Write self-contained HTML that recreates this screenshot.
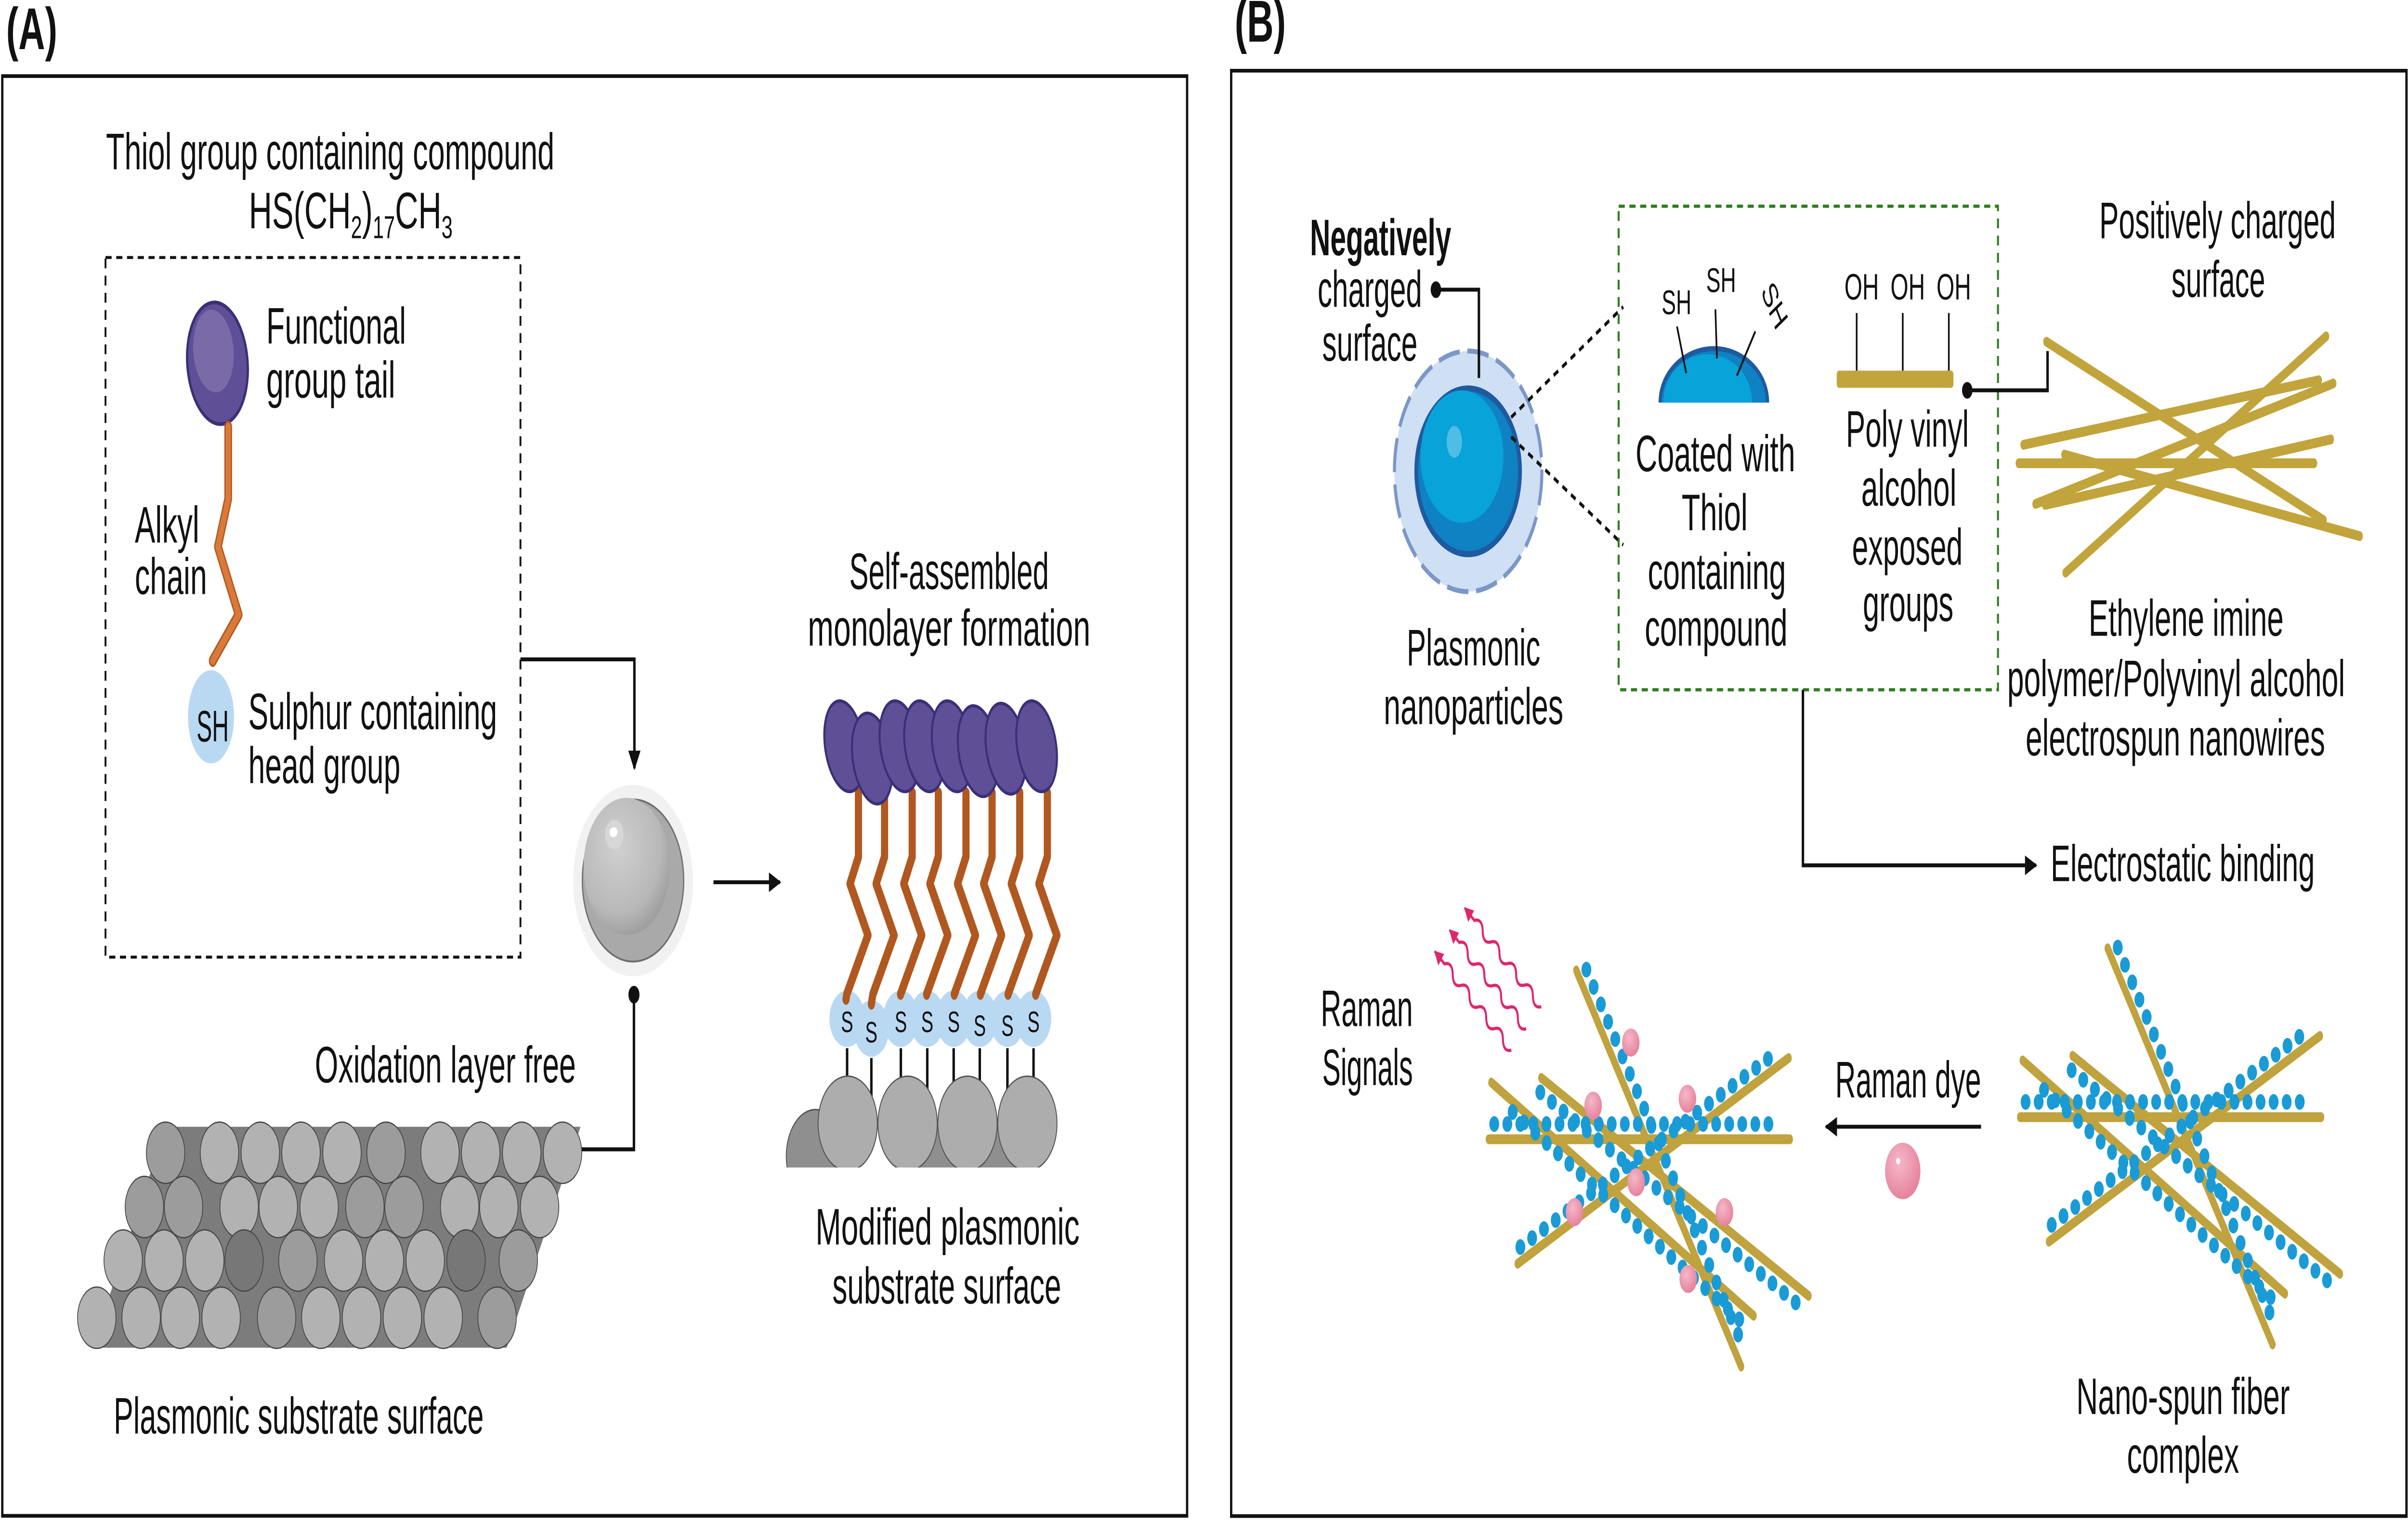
<!DOCTYPE html>
<html><head><meta charset="utf-8"><style>
html,body{margin:0;padding:0;background:#fff;width:100%;height:100%;overflow:hidden;}
svg.root{display:block;position:fixed;left:0;top:0;width:100vw;height:100vh;}
text{font-family:"Liberation Sans Narrow","Liberation Sans",sans-serif;font-size:21px;fill:#111;}
</style></head><body>
<svg class="root" viewBox="0 0 1568 619.2" preserveAspectRatio="none" xmlns="http://www.w3.org/2000/svg">
<defs>
<marker id="ah" viewBox="0 0 10 10" refX="9" refY="5" markerWidth="9" markerHeight="8" markerUnits="userSpaceOnUse" orient="auto"><path d="M0,0 L10,5 L0,10 z" fill="#111"/></marker>
<marker id="pk" viewBox="0 0 10 10" refX="9" refY="5" markerWidth="6" markerHeight="6" markerUnits="userSpaceOnUse" orient="auto"><path d="M0,0 L10,5 L0,10 z" fill="#e0266e"/></marker>
<radialGradient id="gs" cx="0.4" cy="0.35" r="0.7"><stop offset="0" stop-color="#d0d0d0"/><stop offset="0.7" stop-color="#b8b8b8"/><stop offset="1" stop-color="#9a9a9a"/></radialGradient>
<radialGradient id="pb" cx="0.4" cy="0.35" r="0.7"><stop offset="0" stop-color="#f6b8c8"/><stop offset="1" stop-color="#e47f9a"/></radialGradient>
<g id="cx">
 <g stroke="#c0a23e" stroke-width="4" stroke-linecap="round">
  <line x1="969.4" y1="464.1" x2="1165.5" y2="464.1"/>
  <line x1="1026.4" y1="395.3" x2="1133.8" y2="556.7"/>
  <line x1="1003.6" y1="439.1" x2="1177.7" y2="527.9"/>
  <line x1="971.1" y1="441" x2="1141.9" y2="536"/>
  <line x1="988.2" y1="514.8" x2="1164.7" y2="431"/>
 </g>
 <g stroke="#1a9bd5" stroke-width="6.4" stroke-linecap="round" stroke-dasharray="0 8.5">
  <line x1="973" y1="457.9" x2="1156" y2="457.9"/>
  <line x1="1033" y1="395" x2="1136" y2="550"/>
  <line x1="1003" y1="445" x2="1172" y2="532"/>
  <line x1="985" y1="453" x2="1137" y2="540"/>
  <line x1="990" y1="508" x2="1152" y2="431"/>
 </g>
</g>
</defs>

<!-- Panel A -->
<text x="4" y="20" style="font-weight:bold;font-size:24px">(A)</text>
<rect x="1.5" y="31" width="771.5" height="586.5" fill="none" stroke="#111" stroke-width="1.5"/>
<text x="69" y="69" textLength="292" lengthAdjust="spacingAndGlyphs">Thiol group containing compound</text>
<text x="162" y="93">HS(CH<tspan font-size="13" dy="4">2</tspan><tspan dy="-4">)</tspan><tspan font-size="13" dy="4">17</tspan><tspan dy="-4">CH</tspan><tspan font-size="13" dy="4">3</tspan></text>
<rect x="68.7" y="104.9" width="270.2" height="285" fill="none" stroke="#111" stroke-width="1.2" stroke-dasharray="4 3"/>
<ellipse cx="141.6" cy="148" rx="19.5" ry="25" transform="rotate(-12 141.6 148)" fill="#5e4f97" stroke="#3b2f78" stroke-width="1.5"/>
<ellipse cx="139" cy="143" rx="13" ry="17" transform="rotate(-12 139 143)" fill="#7a6ba8"/>
<ellipse cx="137.4" cy="292" rx="15" ry="19" fill="#b9d9f3"/>
<path d="M148.6,173.9 L148.6,203.2 L141.9,222.7 L155.4,250.4 L138.5,269.2" fill="none" stroke="#b0581f" stroke-width="5" stroke-linejoin="round" stroke-linecap="round"/>
<path d="M148.6,173.9 L148.6,203.2 L141.9,222.7 L155.4,250.4 L138.5,269.2" fill="none" stroke="#d9793a" stroke-width="3.4" stroke-linejoin="round" stroke-linecap="round"/>
<text x="128" y="302" style="font-size:18px" textLength="21" lengthAdjust="spacingAndGlyphs">SH</text>
<text x="173.4" y="140" textLength="91" lengthAdjust="spacingAndGlyphs">Functional</text>
<text x="173.4" y="162" textLength="84" lengthAdjust="spacingAndGlyphs">group tail</text>
<text x="87.8" y="221" textLength="42" lengthAdjust="spacingAndGlyphs">Alkyl</text>
<text x="87.8" y="242" textLength="47" lengthAdjust="spacingAndGlyphs">chain</text>
<text x="161.7" y="297" textLength="162" lengthAdjust="spacingAndGlyphs">Sulphur containing</text>
<text x="161.7" y="319" textLength="99" lengthAdjust="spacingAndGlyphs">head group</text>
<path d="M338.9,268.6 H413.1 V313" fill="none" stroke="#111" stroke-width="1.6" marker-end="url(#ah)"/>
<circle cx="412.2" cy="358.7" r="39" fill="#f1f1f1"/>
<circle cx="412.2" cy="358.7" r="33" fill="#a9a9a9" stroke="#6f6f6f" stroke-width="0.8"/>
<circle cx="408" cy="353" r="28" fill="url(#gs)"/>
<circle cx="400" cy="340" r="6" fill="#d7d7d7"/>
<ellipse cx="399.5" cy="339" rx="2.6" ry="2" fill="#fff"/>
<line x1="464.6" y1="359.4" x2="507.9" y2="359.4" stroke="#111" stroke-width="1.6" marker-end="url(#ah)"/>
<circle cx="412.8" cy="405.2" r="3.6" fill="#111"/>
<path d="M412.8,405.2 V468.2 H368.9" fill="none" stroke="#111" stroke-width="1.6"/>
<text x="205" y="441" textLength="170" lengthAdjust="spacingAndGlyphs">Oxidation layer free</text>
<polygon points="60,549 330,549 378,459 108,459" fill="#7c7c7c"/>
<g fill="#b2b2b2" stroke="#444" stroke-width="0.5">
<circle cx="107.8" cy="469.6" r="12.5" fill="#9c9c9c"/><circle cx="142.9" cy="469.6" r="12.5"/><circle cx="169.5" cy="469.6" r="12.5"/><circle cx="196" cy="469.6" r="12.5"/><circle cx="222.7" cy="469.6" r="12.5"/><circle cx="251.4" cy="469.6" r="12.5" fill="#9c9c9c"/><circle cx="286.5" cy="469.6" r="12.5"/><circle cx="313" cy="469.6" r="12.5"/><circle cx="339.7" cy="469.6" r="12.5"/><circle cx="366.3" cy="469.6" r="12.5"/>
<circle cx="94" cy="491.7" r="12.5" fill="#9c9c9c"/><circle cx="119.5" cy="491.7" r="12.5" fill="#9c9c9c"/><circle cx="155.7" cy="491.7" r="12.5"/><circle cx="181.2" cy="491.7" r="12.5"/><circle cx="207.8" cy="491.7" r="12.5"/><circle cx="237.6" cy="491.7" r="12.5" fill="#9c9c9c"/><circle cx="263.1" cy="491.7" r="12.5" fill="#9c9c9c"/><circle cx="299.3" cy="491.7" r="12.5"/><circle cx="324.8" cy="491.7" r="12.5"/><circle cx="351.4" cy="491.7" r="12.5"/>
<circle cx="80.2" cy="513.5" r="12.5"/><circle cx="106.8" cy="513.5" r="12.5"/><circle cx="133.3" cy="513.5" r="12.5"/><circle cx="158.9" cy="513.5" r="12.5" fill="#777"/><circle cx="194" cy="513.5" r="12.5" fill="#9c9c9c"/><circle cx="223.7" cy="513.5" r="12.5"/><circle cx="250.3" cy="513.5" r="12.5"/><circle cx="276.9" cy="513.5" r="12.5"/><circle cx="303.5" cy="513.5" r="12.5" fill="#777"/><circle cx="337.5" cy="513.5" r="12.5" fill="#9c9c9c"/>
<circle cx="63" cy="536.8" r="12.5"/><circle cx="91.9" cy="536.8" r="12.5"/><circle cx="117.4" cy="536.8" r="12.5"/><circle cx="144" cy="536.8" r="12.5"/><circle cx="180.1" cy="536.8" r="12.5" fill="#9c9c9c"/><circle cx="208.9" cy="536.8" r="12.5"/><circle cx="235.4" cy="536.8" r="12.5"/><circle cx="262" cy="536.8" r="12.5"/><circle cx="288.6" cy="536.8" r="12.5"/><circle cx="323.7" cy="536.8" r="12.5" fill="#9c9c9c"/>
</g>
<text x="74" y="584" textLength="241" lengthAdjust="spacingAndGlyphs">Plasmonic substrate surface</text>
<text x="553" y="240" textLength="130" lengthAdjust="spacingAndGlyphs">Self-assembled</text>
<text x="526" y="263" textLength="184" lengthAdjust="spacingAndGlyphs">monolayer formation</text>
<g fill="#b9d9f3">
<circle cx="551.6" cy="415" r="11.5"/><circle cx="567.4" cy="419" r="11.5"/><circle cx="586.6" cy="415" r="11.5"/><circle cx="603.8" cy="415" r="11.5"/><circle cx="621" cy="415" r="11.5"/><circle cx="638" cy="415" r="11.5"/><circle cx="656" cy="415" r="11.5"/><circle cx="673" cy="415" r="11.5"/>
</g>
<g stroke="#111" stroke-width="1.6">
<line x1="551.6" y1="427" x2="551.6" y2="444"/><line x1="567.4" y1="431" x2="567.4" y2="448"/><line x1="586.6" y1="427" x2="586.6" y2="444"/><line x1="603.8" y1="427" x2="603.8" y2="444"/><line x1="621" y1="427" x2="621" y2="444"/><line x1="638" y1="427" x2="638" y2="444"/><line x1="656" y1="427" x2="656" y2="446"/><line x1="673" y1="427" x2="673" y2="444"/>
</g>
<clipPath id="gc"><rect x="500" y="400" width="220" height="75.6"/></clipPath>
<g clip-path="url(#gc)">
<circle cx="531" cy="471" r="19" fill="#8f8f8f" stroke="#555" stroke-width="0.6"/>
<circle cx="610" cy="475" r="19" fill="#8f8f8f"/><circle cx="650" cy="475" r="19" fill="#8f8f8f"/>
<g fill="#adadad" stroke="#555" stroke-width="0.6">
<circle cx="552" cy="457.7" r="19.3"/><circle cx="591" cy="457.7" r="19.3"/><circle cx="630" cy="457.7" r="19.3"/><circle cx="669" cy="457.7" r="19.3"/>
</g>
</g>
<g text-anchor="middle">
<text x="551.6" y="420.5" style="font-size:12px">S</text><text x="567.4" y="424.7" style="font-size:12px">S</text><text x="586.6" y="420.5" style="font-size:12px">S</text><text x="603.8" y="420.5" style="font-size:12px">S</text><text x="621" y="420.5" style="font-size:12px">S</text><text x="638" y="422" style="font-size:12px">S</text><text x="656" y="422" style="font-size:12px">S</text><text x="673" y="420.5" style="font-size:12px">S</text>
</g>
<g fill="none" stroke-linejoin="round" stroke-linecap="round">
<g id="ch" stroke="#b0581f" stroke-width="4.6">
<path d="M559,323 V349 l-5.5,11 l11.7,21 l-13.8,24 l-0.5,2"/>
<path d="M576,323 V349 l-5.5,11 l11.7,21 l-13.8,24 l-1,4"/>
<path d="M594,323 V349 l-5.5,11 l11.7,21 l-13.8,24"/>
<path d="M611,323 V349 l-5.5,11 l11.7,21 l-13.8,24"/>
<path d="M629,323 V349 l-5.5,11 l11.7,21 l-13.8,24"/>
<path d="M646,323 V349 l-5.5,11 l11.7,21 l-13.8,24"/>
<path d="M664,323 V349 l-5.5,11 l11.7,21 l-13.8,24"/>
<path d="M682,323 V349 l-5.5,11 l11.7,21 l-13.8,24"/>
</g>
<use href="#ch" stroke="#d9793a" stroke-width="3"/>
</g>
<g fill="#5e4f97" stroke="#3b2f78" stroke-width="1.3">
<ellipse cx="550" cy="304" rx="12.5" ry="19" transform="rotate(-18 550 304)"/>
<ellipse cx="568" cy="309" rx="12.5" ry="19" transform="rotate(-18 568 309)"/>
<ellipse cx="586" cy="304" rx="12.5" ry="19" transform="rotate(-18 586 304)"/>
<ellipse cx="602" cy="304" rx="12.5" ry="19" transform="rotate(-18 602 304)"/>
<ellipse cx="620" cy="304" rx="12.5" ry="19" transform="rotate(-18 620 304)"/>
<ellipse cx="637" cy="306" rx="12.5" ry="19" transform="rotate(-18 637 306)"/>
<ellipse cx="655" cy="305" rx="12.5" ry="19" transform="rotate(-18 655 305)"/>
<ellipse cx="675" cy="304" rx="12.5" ry="19" transform="rotate(-18 675 304)"/>
</g>
<text x="531" y="507" textLength="172" lengthAdjust="spacingAndGlyphs">Modified plasmonic</text>
<text x="542" y="531" textLength="149" lengthAdjust="spacingAndGlyphs">substrate surface</text>

<!-- Panel B -->
<text x="804" y="17" style="font-weight:bold;font-size:24px">(B)</text>
<rect x="801.7" y="28.8" width="765.3" height="588.8" fill="none" stroke="#111" stroke-width="1.5"/>
<text x="853" y="104" textLength="92" lengthAdjust="spacingAndGlyphs" style="font-weight:bold">Negatively</text>
<text x="858" y="125" textLength="68" lengthAdjust="spacingAndGlyphs">charged</text>
<text x="861" y="147" textLength="62" lengthAdjust="spacingAndGlyphs">surface</text>
<ellipse cx="956" cy="192" rx="48" ry="49" fill="#cfe0f5" stroke="#7c97c6" stroke-width="2" stroke-dasharray="14 5"/>
<circle cx="956" cy="192" r="35" fill="#1f5aa0"/>
<circle cx="956" cy="192" r="32.5" fill="#0e82c2"/>
<circle cx="952" cy="186" r="27" fill="#07a3d9"/>
<ellipse cx="947" cy="180" rx="5" ry="6.5" fill="#4fbde6"/>
<circle cx="935" cy="118" r="3.4" fill="#111"/>
<path d="M935,118 H963 V154" fill="none" stroke="#111" stroke-width="1.6"/>
<line x1="984" y1="170" x2="1057" y2="125" stroke="#111" stroke-width="1.5" stroke-dasharray="3.5 3"/>
<line x1="984" y1="178" x2="1057" y2="222" stroke="#111" stroke-width="1.5" stroke-dasharray="3.5 3"/>
<text x="916" y="271" textLength="87" lengthAdjust="spacingAndGlyphs">Plasmonic</text>
<text x="901" y="295" textLength="117" lengthAdjust="spacingAndGlyphs">nanoparticles</text>
<rect x="1054" y="84" width="247" height="197" fill="none" stroke="#2e7d1e" stroke-width="1.3" stroke-dasharray="4 3"/>
<path d="M1080,164 A36,23 0 0 1 1152,164 Z" fill="#1f5aa0"/>
<path d="M1082,164 A34,21 0 0 1 1150,164 Z" fill="#0e82c2"/>
<path d="M1083,164 A28,19 0 0 1 1141,164 Z" fill="#07a3d9"/>
<g stroke="#111" stroke-width="1.1">
<line x1="1092" y1="133" x2="1098" y2="152"/><line x1="1117" y1="126" x2="1118" y2="146"/><line x1="1143" y1="135" x2="1131" y2="153"/>
</g>
<text x="1082" y="128" style="font-size:14px">SH</text>
<text x="1111" y="119" style="font-size:14px">SH</text>
<text x="1144" y="123" style="font-size:14px" transform="rotate(58 1149 123)">SH</text>
<text x="1201" y="122" style="font-size:15px">OH</text>
<text x="1231" y="122" style="font-size:15px">OH</text>
<text x="1261" y="122" style="font-size:15px">OH</text>
<g stroke="#111" stroke-width="1.1"><line x1="1209" y1="127.5" x2="1209" y2="151"/><line x1="1239" y1="127.5" x2="1239" y2="151"/><line x1="1269" y1="127.5" x2="1269" y2="151"/></g>
<rect x="1196" y="151" width="76" height="7" rx="1.5" fill="#c2a43c"/>
<text x="1065" y="192" textLength="104" lengthAdjust="spacingAndGlyphs">Coated with</text>
<text x="1095" y="216" textLength="43" lengthAdjust="spacingAndGlyphs">Thiol</text>
<text x="1073" y="240" textLength="90" lengthAdjust="spacingAndGlyphs">containing</text>
<text x="1071" y="263" textLength="93" lengthAdjust="spacingAndGlyphs">compound</text>
<text x="1202" y="182" textLength="80" lengthAdjust="spacingAndGlyphs">Poly vinyl</text>
<text x="1212" y="206" textLength="62" lengthAdjust="spacingAndGlyphs">alcohol</text>
<text x="1206" y="230" textLength="72" lengthAdjust="spacingAndGlyphs">exposed</text>
<text x="1213" y="253" textLength="59" lengthAdjust="spacingAndGlyphs">groups</text>
<circle cx="1281" cy="159" r="3.4" fill="#111"/>
<path d="M1281,159 H1333.3 V143" fill="none" stroke="#111" stroke-width="1.6"/>
<text x="1367" y="97" textLength="154" lengthAdjust="spacingAndGlyphs">Positively charged</text>
<text x="1414" y="121" textLength="61" lengthAdjust="spacingAndGlyphs">surface</text>
<g stroke="#c2a43c" stroke-width="4" stroke-linecap="round">
<line x1="1332.5" y1="139.2" x2="1513.1" y2="211.9"/>
<line x1="1345" y1="233.3" x2="1514.7" y2="137"/>
<line x1="1317.6" y1="181.2" x2="1510" y2="154.9"/>
<line x1="1314.5" y1="188.7" x2="1506.9" y2="188.7"/>
<line x1="1325.4" y1="205.3" x2="1519.4" y2="156.2"/>
<line x1="1331.7" y1="205.7" x2="1517.8" y2="179"/>
<line x1="1344.2" y1="185.2" x2="1536.6" y2="218.4"/>
</g>
<text x="1360" y="259" textLength="127" lengthAdjust="spacingAndGlyphs">Ethylene imine</text>
<text x="1307" y="283.6" textLength="220" lengthAdjust="spacingAndGlyphs">polymer/Polyvinyl alcohol</text>
<text x="1319" y="307.7" textLength="195" lengthAdjust="spacingAndGlyphs">electrospun nanowires</text>
<path d="M1174,281 V352.5 H1325.8" fill="none" stroke="#111" stroke-width="1.6" marker-end="url(#ah)"/>
<text x="1335.3" y="358.9" textLength="172" lengthAdjust="spacingAndGlyphs">Electrostatic binding</text>
<text x="860" y="418" textLength="60" lengthAdjust="spacingAndGlyphs">Raman</text>
<text x="861" y="442" textLength="59" lengthAdjust="spacingAndGlyphs">Signals</text>
<g fill="none" stroke="#e0266e" stroke-width="1.3">
<path transform="translate(1003.6,410.1) rotate(218.9)" d="M0,0 q3.5,-4 7,0 t7,0 t7,0 t7,0 t7,0 t7,0 t7,0 t7,0 l8,0" marker-end="url(#pk)"/>
<path transform="translate(993.8,419.1) rotate(218.9)" d="M0,0 q3.5,-4 7,0 t7,0 t7,0 t7,0 t7,0 t7,0 t7,0 t7,0 l8,0" marker-end="url(#pk)"/>
<path transform="translate(984.1,427.8) rotate(218.9)" d="M0,0 q3.5,-4 7,0 t7,0 t7,0 t7,0 t7,0 t7,0 t7,0 t7,0 l8,0" marker-end="url(#pk)"/>
</g>
<use href="#cx"/>
<g fill="url(#pb)">
<circle cx="1061.9" cy="424.7" r="5.7"/><circle cx="1037.4" cy="450.4" r="5.7"/><circle cx="1098.8" cy="447.6" r="5.7"/><circle cx="1065.4" cy="481.6" r="5.7"/><circle cx="1025.2" cy="493.8" r="5.7"/><circle cx="1122.9" cy="493.8" r="5.7"/><circle cx="1099.3" cy="521" r="5.7"/>
</g>
<use href="#cx" transform="translate(346,-9)"/>
<text x="1195" y="447" textLength="95" lengthAdjust="spacingAndGlyphs">Raman dye</text>
<line x1="1290" y1="459" x2="1189" y2="459" stroke="#111" stroke-width="1.6" marker-end="url(#ah)"/>
<circle cx="1239" cy="477" r="11.5" fill="url(#pb)"/>
<circle cx="1236" cy="473" r="1.3" fill="#fff"/>
<text x="1352" y="576" textLength="139" lengthAdjust="spacingAndGlyphs">Nano-spun fiber</text>
<text x="1385" y="600" textLength="73" lengthAdjust="spacingAndGlyphs">complex</text>
</svg>
</body></html>
